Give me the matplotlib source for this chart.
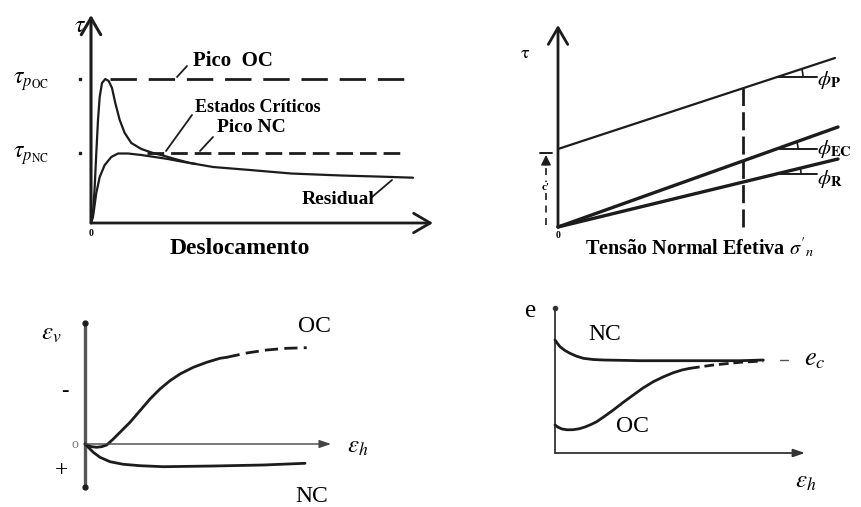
import numpy as np
import matplotlib
matplotlib.use("Agg")
import matplotlib.pyplot as plt
from matplotlib.patches import Arc

plt.rcParams["font.family"] = ["Liberation Serif", "DejaVu Serif"]
plt.rcParams["mathtext.fontset"] = "stix"
plt.rcParams["lines.scale_dashes"] = False
plt.rcParams["lines.solid_capstyle"] = "round"

W, H = 861, 507
INK = "#1c1c1c"

# --- (a) tensao cisalhante x deslocamento ---
desl_oc = [0, 2, 3.7, 5.3, 7, 8.7, 11, 14.3, 17.7, 21, 24.3, 28.7, 33.7, 40.3, 50.3, 62,
           73.7, 82, 99, 122, 159, 200, 250, 292, 322]
tau_oc = [0, 10, 36, 70, 103, 126, 140, 144, 142, 135, 120, 103, 90, 80, 74, 70,
          67, 64.5, 60, 56, 53, 49.5, 47.5, 46.3, 45.3]
desl_nc = [0, 2, 5.3, 8.7, 13.7, 20.3, 27, 37, 50.3, 63.7, 77, 90, 105]
tau_nc = [0, 6, 30, 46, 58, 66, 69.5, 69.5, 68, 66, 64, 61.5, 59]
tau_pico_oc = 144
tau_pico_nc = 70

# --- (b) envoltorias de resistencia ---
sig_p = [0, 277]
tau_p = [78, 169]
sig_ec = [0, 280]
tau_ec = [0, 100]
sig_r = [0, 280]
tau_r = [0, 68]
sig_corte = 185

# --- (c) deformacao volumetrica x horizontal ---
eh_oc = [0, 1.7, 6, 11.7, 17, 21.7, 28.3, 35, 45, 55, 65, 75, 85, 95, 108.3, 121.7, 135, 141.7]
ev_oc = [0, -1, -2.6, -3.3, -2.6, -1, 5, 11.7, 21.7, 33.3, 45, 55, 63.3, 70, 76.7, 81.7, 85.7, 86.7]
eh_oc_tr = [141.7, 161.7, 181.7, 201.7, 221.7]
ev_oc_tr = [86.7, 91, 94, 95.7, 96.3]
eh_nc = [0, 1.7, 8.3, 15, 25, 38.3, 55, 78.3, 128.3, 178.3, 220]
ev_nc = [0, -1.7, -8.3, -13.3, -17.7, -20.3, -21.7, -22.7, -22, -21, -19.3]

# --- (d) indice de vazios x deformacao horizontal ---
eh4_nc = [0, 2.5, 5, 10, 15, 21, 28.3, 38, 48.3, 85, 135, 185, 208.3]
e_nc = [113, 109.5, 106.3, 102.5, 99.7, 97, 94.7, 93.5, 93, 92.3, 92.3, 92.3, 93]
eh4_oc = [0, 3, 7, 12, 18, 24, 30, 36, 41.7, 50, 58.3, 68, 78.3, 88, 98.3, 108, 118.3, 127, 135]
e_oc = [28, 25.8, 24, 23.2, 23.3, 24.2, 26, 28.5, 31.3, 37, 43, 50.5, 58, 65, 71.3, 76, 80.3, 83, 84.7]
eh4_oc_tr = [135, 158.3, 185, 208.3]
e_oc_tr = [84.7, 88, 90.7, 92]
e_crit = 93

fig = plt.figure(figsize=(W / 100, H / 100), dpi=100)


def panel(ox, oy, x0, x1, y0, y1):
    ax = fig.add_axes([(ox + x0) / W, (H - oy + y0) / H, (x1 - x0) / W, (y1 - y0) / H])
    ax.set_xlim(x0, x1)
    ax.set_ylim(y0, y1)
    ax.axis("off")
    return ax


def seta(ax, xy0, xy1, lw=2.0, hl=0.6, hw=0.35, style="->", color=INK):
    ax.annotate("", xy=xy1, xytext=xy0,
                arrowprops=dict(arrowstyle=f"{style},head_length={hl},head_width={hw}",
                                lw=lw, color=color, shrinkA=0, shrinkB=0,
                                mutation_scale=20))


def linha(ax, x, y, **kw):
    kw.setdefault("color", INK)
    kw.setdefault("lw", 1.8)
    ax.plot(x, y, clip_on=False, **kw)


# (a)
ax1 = panel(91, 223, -91, 349, -37, 223)
seta(ax1, (0, 0), (0, 208), lw=2.2)
seta(ax1, (0, 0), (342, 0), lw=2.0)
linha(ax1, desl_oc, tau_oc, lw=1.6)
linha(ax1, desl_nc, tau_nc, lw=1.6)
linha(ax1, [19, 314], [tau_pico_oc] * 2, lw=2.0, dashes=(19, 8.5), solid_capstyle="butt")
linha(ax1, [56, 314], [tau_pico_nc] * 2, lw=2.0, dashes=(12, 5), solid_capstyle="butt")
ax1.plot([-11, -11], [tau_pico_oc, tau_pico_nc], "s", ms=2, color=INK, clip_on=False)
ax1.text(-78, tau_pico_oc - 3, r"$\tau_{p_{\mathrm{OC}}}$", fontsize=17, va="center", ha="left")
ax1.text(-78, tau_pico_nc - 3, r"$\tau_{p_{\mathrm{NC}}}$", fontsize=17, va="center", ha="left")
ax1.text(-5, 197, r"$\tau$", fontsize=17, ha="right", va="center")
ax1.text(0, -11, "0", fontsize=7, ha="center", va="center", fontweight="bold")
ax1.text(102, 162, "Pico  OC", fontsize=15, fontweight="bold", va="center")
ax1.text(104, 116, "Estados Críticos", fontsize=13, fontweight="bold", va="center")
ax1.text(126, 95, "Pico NC", fontsize=14, fontweight="bold", va="center")
ax1.text(211, 23, "Residual", fontsize=14, fontweight="bold", va="center")
ax1.text(149, -25, "Deslocamento", fontsize=17, fontweight="bold", ha="center", va="center")
for (xa, ya), (xb, yb) in [((86, 146), (96, 157)), ((75, 72), (101, 108)),
                           ((109, 72), (122, 86)), ((281, 26), (301, 43))]:
    linha(ax1, [xa, xb], [ya, yb], lw=1.3)

# (b)
ax2 = panel(558, 227, -118, 303, -33, 227)
seta(ax2, (0, 0), (0, 202), lw=2.0)
seta(ax2, (-18, 0), (304, 0), lw=2.0)
linha(ax2, sig_p, tau_p, lw=1.6)
linha(ax2, sig_ec, tau_ec, lw=2.4)
linha(ax2, sig_r, tau_r, lw=2.4)
tau_corte = np.interp(sig_corte, sig_p, tau_p)
linha(ax2, [sig_corte] * 2, [0, tau_corte], lw=2.0, dashes=(13, 4.5), solid_capstyle="butt")
for sx, ty, x0, r, rotulo, dy in [(sig_p, tau_p, 219, 26, r"$\phi_{\mathbf{P}}$", -3),
                                  (sig_ec, tau_ec, 218, 22, r"$\phi_{\mathbf{EC}}$", 0),
                                  (sig_r, tau_r, 218, 25, r"$\phi_{\mathbf{R}}$", -5)]:
    y0 = np.interp(x0, sx, ty)
    ang = np.degrees(np.arctan2(ty[1] - ty[0], sx[1] - sx[0]))
    linha(ax2, [x0, 259], [y0, y0], lw=1.4)
    ax2.add_patch(Arc((x0, y0), 2 * r, 2 * r, theta1=0, theta2=ang, lw=1.2, color=INK))
    ax2.text(259, y0 + dy, rotulo, fontsize=15, va="center", ha="left")
# coesao
linha(ax2, [-12, -12], [2, 70], lw=1.2, dashes=(5, 4), solid_capstyle="butt")
linha(ax2, [-18, -6], [73.7, 73.7], lw=1.4)
seta(ax2, (-12, 62), (-12, 72), lw=1.0, hl=0.3, hw=0.15, style="-|>")
ax2.text(-12, 40, "c'", fontsize=8, fontweight="bold", ha="center", va="center",
         bbox=dict(fc="white", ec="none", pad=0.5))
ax2.text(-33, 174, r"$\mathrm{\tau}$", fontsize=13, ha="center", va="center")
ax2.text(0, -9, "0", fontsize=7, fontweight="bold", ha="center", va="center")
ax2.text(142, -21, r"Tensão Normal Efetiva $\sigma'_{n}$", fontsize=14.5, fontweight="bold",
         ha="center", va="center")

# (c)
ax3 = panel(85, 444, -85, 355, -63, 184)
linha(ax3, [0, 0], [-43, 121], lw=2.4, color="#555555")
ax3.plot([0, 0], [-43, 121], "o", ms=3.5, color=INK, clip_on=False)
seta(ax3, (0, 0), (246, 0), lw=1.0, hl=0.35, hw=0.12, style="-|>", color="#444444")
linha(ax3, eh_oc, ev_oc, lw=2.0)
linha(ax3, eh_oc_tr, ev_oc_tr, lw=2.0, dashes=(9.5, 4.5), solid_capstyle="butt")
linha(ax3, eh_nc, ev_nc, lw=2.0)
ax3.text(-34, 110, r"$\varepsilon_v$", fontsize=18, ha="center", va="center")
ax3.text(273, -3, r"$\varepsilon_h$", fontsize=18, ha="center", va="center")
ax3.text(229, 118, "OC", fontsize=17, ha="center", va="center")
ax3.text(227, -52, "NC", fontsize=17, ha="center", va="center")
ax3.text(-20, 52, "-", fontsize=16, ha="center", va="center")
ax3.text(-10, 0, "o", fontsize=10, ha="center", va="center", color="#777777")
ax3.text(-23, -27, "+", fontsize=17, ha="center", va="center")

# (d)
ax4 = panel(555, 453, -115, 306, -54, 193)
linha(ax4, [0, 0], [0, 145], lw=1.3, color="#333333")
ax4.plot([0], [145], "o", ms=3, color="#333333", clip_on=False)
seta(ax4, (0, 0), (250, 0), lw=1.3, hl=0.35, hw=0.12, style="-|>", color="#333333")
linha(ax4, eh4_nc, e_nc, lw=2.0)
linha(ax4, eh4_oc, e_oc, lw=2.0)
linha(ax4, eh4_oc_tr, e_oc_tr, lw=2.0, dashes=(7, 3.5), solid_capstyle="butt")
linha(ax4, [225, 233], [e_crit, e_crit], lw=1.0, color="#555555")
ax4.text(260, e_crit, r"$e_c$", fontsize=19, ha="center", va="center")
ax4.text(50, 118, "NC", fontsize=17, ha="center", va="center")
ax4.text(77, 26, "OC", fontsize=17, ha="center", va="center")
ax4.text(-24, 142, "e", fontsize=18, ha="center", va="center")
ax4.text(251, -29, r"$\varepsilon_h$", fontsize=18, ha="center", va="center")

fig.savefig("out.png", dpi=100)
